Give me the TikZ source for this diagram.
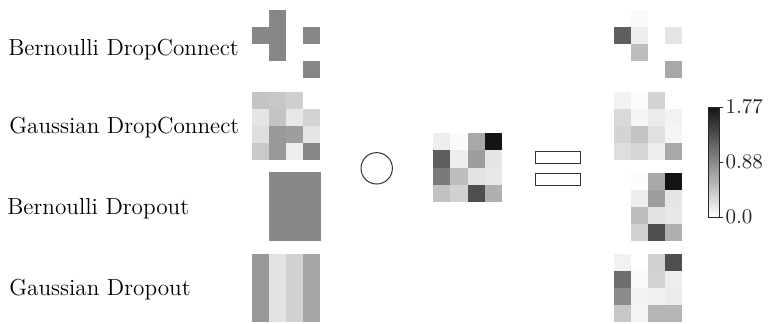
\documentclass[tikz,border=0pt]{standalone}
\usepackage{tikz}
\usetikzlibrary{positioning}

% one 4x4 block of grey cells; #1,#2 top left corner, #3 cell size, #4 rows of grey levels
\newcommand{\drawcells}[4]{%
  \foreach \row [count=\r from 0] in {#4} {
    \foreach \g [count=\c from 0] in \row {
      \definecolor{cellfill}{gray}{\g}
      \fill[cellfill] ({#1+\c*#3},{#2+\r*#3}) rectangle ++(#3,#3);
    }
  }}

\begin{document}
\begin{tikzpicture}[
    x=0.5pt, y=-0.5pt,
    lbl/.style={font=\fontsize{11.6}{13}\selectfont, inner sep=0pt, anchor=base west},
    ticklbl/.style={font=\fontsize{10.5}{12}\selectfont, inner sep=1pt, anchor=west},
    opsym/.style={draw=black!80, line width=0.5pt, inner sep=0pt},
  ]
  \useasboundingbox (0,0) rectangle (770,323);

  % row labels
  \node[lbl] (bdc) at (8,55)  {Bernoulli DropConnect};
  \node[lbl] (gdc) at (9,133) {Gaussian DropConnect};
  \node[lbl] (bdo) at (7,214) {Bernoulli Dropout};
  \node[lbl] (gdo) at (9,295) {Gaussian Dropout};

  % masks
  \drawcells{252}{10}{17}{{1,.53,1,1},{.53,.53,1,.53},{1,.53,1,1},{1,1,1,.53}}
  \drawcells{252}{92}{17}{{.77,.78,.81,1},{.90,.77,.91,.83},{.87,.60,.62,.90},{.79,.60,.93,.53}}
  \drawcells{252}{172}{17.25}{{1,.53,.53,.53},{1,.53,.53,.53},{1,.53,.53,.53},{1,.53,.53,.53}}
  \drawcells{252}{254}{17}{{.60,.89,.82,.65},{.60,.89,.82,.65},{.60,.89,.82,.65},{.60,.89,.82,.65}}

  % product sign and weights
  \node[opsym, circle, minimum size=15.7pt] (prod) at (376.7,168.3) {};
  \drawcells{433}{133}{17.3}{{.93,.98,.66,.08},{.37,.93,.62,.90},{.48,.74,.89,.91},{.76,.82,.31,.69}}

  % equals sign
  \node[opsym, minimum width=22.8pt, minimum height=5.8pt] (eqtop) at (557.8,157.5) {};
  \node[opsym, minimum width=22.8pt, minimum height=5.8pt] (eqbot) at (557.8,179.2) {};

  % results
  \drawcells{614}{10}{17}{{1,.98,1,1},{.37,.93,1,.90},{1,.74,1,1},{1,1,1,.66}}
  \drawcells{614}{92}{17}{{.95,.99,.83,1},{.85,.96,.92,.95},{.83,.77,.88,.96},{.87,.84,.93,.66}}
  \drawcells{614}{173}{17}{{1,.99,.66,.08},{1,.93,.62,.90},{1,.74,.89,.91},{1,.82,.31,.69}}
  \drawcells{614}{254}{17}{{.95,1,.82,.31},{.43,.98,.83,.93},{.55,.95,.94,.92},{.78,.96,.71,.71}}

  % colour bar
  \shade[top color=black!92, bottom color=white] (708,107) rectangle (719,217);
  \draw[black!85, line width=0.5pt] (708,107) rectangle (719,217);
  \coordinate (cbtop) at (719,107);
  \coordinate (cbmid) at (719,162);
  \coordinate (cbbot) at (719,217);
  \foreach \p/\t in {cbtop/1.77, cbmid/0.88, cbbot/0.0} {
    \draw[black!85, line width=0.5pt] (\p) -- ++(4,0) node[ticklbl] (lbl-\p) {\t};
  }
\end{tikzpicture}
\end{document}
